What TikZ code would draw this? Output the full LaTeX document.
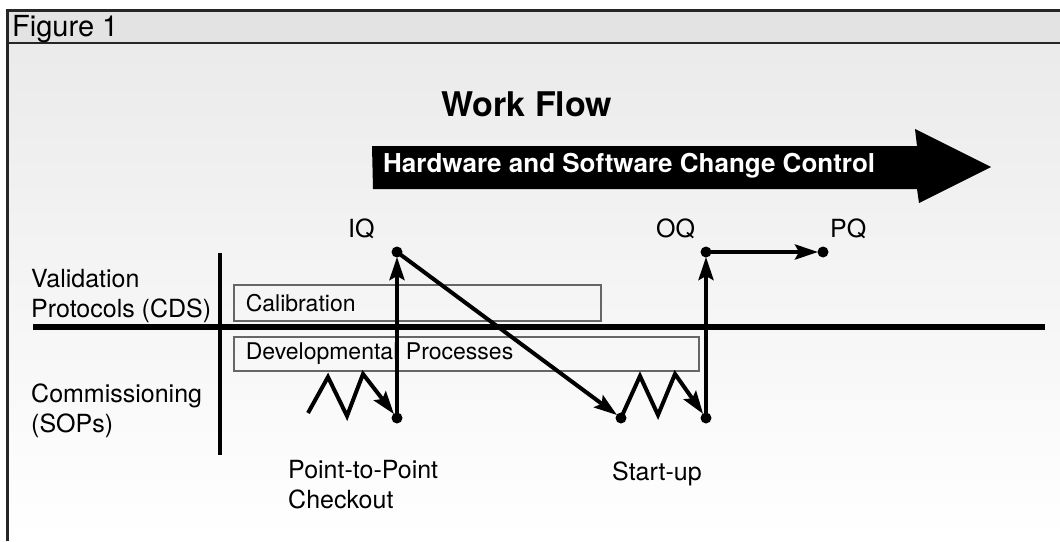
\documentclass[tikz,border=0pt]{standalone}
\usepackage{fontspec}
\setmainfont{TeX Gyre Heros}
\usetikzlibrary{arrows.meta}

\tikzset{
  flow/.style={line width=4pt, line join=miter, -{Stealth[length=23pt,width=15pt,inset=4pt]}, shorten >=5pt},
  procbox/.style={draw=black!60, line width=1.5pt, anchor=north west, inner xsep=12pt, inner ysep=0pt, align=left, font=\fontsize{23}{27}\selectfont},
  lbl/.style={anchor=base west, inner sep=0pt, align=left, font=\fontsize{25}{30}\selectfont},
  dot/.style={fill=black}
}

\begin{document}
\begin{tikzpicture}[x=1pt,y=-1pt]
    \useasboundingbox (0,0) rectangle (1060,541);
    \fill[white] (0,0) rectangle (1060,541);
    \shade[top color=black!8, bottom color=white] (7,43) rectangle (1060,541);
    \fill[black!11] (7,10) rectangle (1060,43);
    \draw[line width=3pt, black!85] (7,541) -- (7,10) -- (1060,10);
    \draw[line width=2.5pt, black!85] (7,43) -- (1060,43);
    \node[lbl, font=\fontsize{29}{34}\selectfont] (fig) at (12,36) {Figure 1};

    \node[anchor=base, font=\bfseries\fontsize{34}{40}\selectfont] (wf) at (527,116) {Work Flow};
    \fill (372,146) -- (917,146) -- (915,129) -- (991,167) -- (919,203) -- (917,189) -- (373,189) -- cycle;
    \node[lbl, white, font=\bfseries\fontsize{26}{30}\selectfont] (hsc) at (383,172) {Hardware and Software Change Control};

    \node[lbl] (val) at (31,317) {Validation\\Protocols (CDS)};
    \node[lbl] (com) at (31,432) {Commissioning\\(SOPs)};
    \draw[line width=6pt] (33,327) -- (1045,327);
    \draw[line width=4pt] (220,253) -- (220,455);

    \node[procbox, minimum width=367pt, minimum height=36pt, text width=343pt] (cal) at (233,284) {Calibration};
    \node[procbox, minimum width=465pt, minimum height=34pt, text width=441pt] (dev) at (233,336) {Developmental Processes};

    \coordinate (z0) at (308,413);
    \coordinate (ppc) at (397,418);
    \coordinate (iq) at (397,252);
    \coordinate (sus) at (621,418);
    \coordinate (su) at (706,418);
    \coordinate (oq) at (706,252);
    \coordinate (pq) at (823,252);

    \node[lbl] (iql) at (348,237) {IQ};
    \node[lbl] (oql) at (656,237) {OQ};
    \node[lbl] (pql) at (830,237) {PQ};
    \node[lbl] (ptp) at (288,508) {Point-to-Point\\Checkout};
    \node[lbl] (stu) at (612,480) {Start-up};

    \draw[flow] (z0) -- (328,377) -- (347,416) -- (363,374) -- (ppc);
    \draw[flow] (ppc) -- (iq);
    \draw[flow] (iq) -- (sus);
    \draw[flow] (sus) -- (640,376) -- (658,415) -- (675,374) -- (su);
    \draw[flow] (su) -- (oq);
    \draw[flow] (oq) -- (pq);
    \foreach \p in {ppc,iq,sus,su,oq,pq} {
        \fill[dot] (\p) circle (5.5);
    }
\end{tikzpicture}
\end{document}
